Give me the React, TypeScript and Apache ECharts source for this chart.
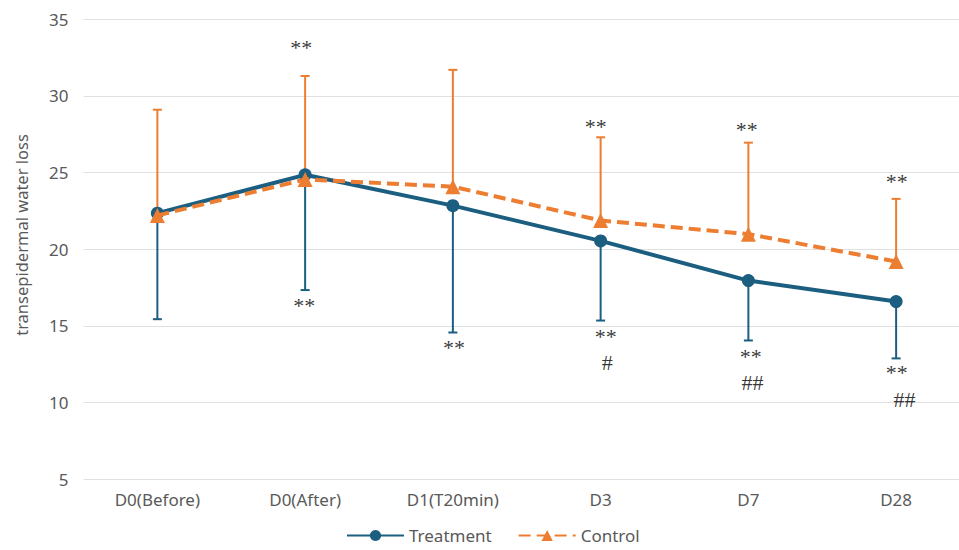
import React, { useEffect, useRef } from "react";
import * as echarts from "echarts";

const categories = ["D0(Before)", "D0(After)", "D1(T20min)", "D3", "D7", "D28"];
const treatmentMean = [22.35, 24.85, 22.84, 20.54, 17.95, 16.58];
const treatmentLower = [15.43, 17.33, 14.56, 15.34, 14.04, 12.87];
const controlMean = [22.2, 24.55, 24.08, 21.87, 20.98, 19.19];
const controlUpper = [29.1, 31.3, 31.7, 27.3, 26.95, 23.28];
const yTicks = { min: 5, max: 35, interval: 5 };

// annotations: category index, value position, text, horizontal pixel nudge
const annotationCats = [1, 1, 2, 3, 3, 3, 4, 4, 4, 5, 5, 5];
const annotationVals = [33.2, 16.4, 13.65, 28.1, 14.35, 12.6, 27.9, 13.05, 11.3, 24.45, 12.0, 10.17];
const annotationTexts = ["**", "**", "**", "**", "**", "#", "**", "**", "##", "**", "**", "##"];
const annotationDx = [-4, -1, 1, -5, 5, 6.6, -1.6, 2.4, 4, 0.7, 0.7, 8.3];

const TREAT = "#1b5e80";
const CTRL = "#ed7d31";
const AXIS_TEXT = "#595959";
const FONT = "Noto Sans";

function errorBarSeries(name: string, mean: number[], bound: number[], color: string) {
  return {
    name,
    type: "custom",
    z: 1,
    silent: true,
    encode: { x: 0, y: [1, 2] },
    data: mean.map((m, i) => [i, m, bound[i]]),
    renderItem: (params: any, api: any) => {
      const x = api.value(0);
      const p0 = api.coord([x, api.value(1)]);
      const p1 = api.coord([x, api.value(2)]);
      const hw = 4.5;
      return {
        type: "group",
        children: [
          { type: "line", shape: { x1: p0[0], y1: p0[1], x2: p1[0], y2: p1[1] }, style: { stroke: color, lineWidth: 2 } },
          { type: "line", shape: { x1: p1[0] - hw, y1: p1[1], x2: p1[0] + hw, y2: p1[1] }, style: { stroke: color, lineWidth: 2 } },
        ],
      };
    },
  };
}

export default function App() {
  const ref = useRef<HTMLDivElement>(null);
  useEffect(() => {
    if (!ref.current) return;
    const chart = echarts.init(ref.current, undefined, { renderer: "svg" });
    chart.setOption({
      animation: false,
      backgroundColor: "#ffffff",
      grid: { left: 83.5, right: 0, top: 19.3, bottom: 71 },
      legend: {
        data: ["Treatment", "Control"],
        bottom: 1,
        left: 341,
        itemWidth: 57,
        itemHeight: 14,
        itemGap: 26,
        textStyle: { color: AXIS_TEXT, fontSize: 17, fontFamily: FONT },
      },
      graphic: [
        {
          type: "text",
          x: 21.5,
          y: 235,
          rotation: Math.PI / 2,
          style: {
            text: "transepidermal water loss",
            fill: AXIS_TEXT,
            font: `16.5px "${FONT}"`,
            align: "center",
            verticalAlign: "middle",
          },
        },
      ],
      xAxis: {
        type: "category",
        data: categories,
        boundaryGap: true,
        axisLine: { show: false },
        axisTick: { show: false },
        axisLabel: { color: AXIS_TEXT, fontSize: 17, fontFamily: FONT, margin: 12 },
      },
      yAxis: {
        type: "value",
        min: yTicks.min,
        max: yTicks.max,
        interval: yTicks.interval,
        axisLine: { show: false },
        axisTick: { show: false },
        axisLabel: { color: AXIS_TEXT, fontSize: 17, fontFamily: FONT, margin: 15 },
        splitLine: { lineStyle: { color: "#e0e0e0", width: 1 } },
      },
      series: [
        errorBarSeries("TreatmentErr", treatmentMean, treatmentLower, TREAT),
        errorBarSeries("ControlErr", controlMean, controlUpper, CTRL),
        {
          name: "Treatment",
          type: "line",
          z: 3,
          data: treatmentMean,
          color: TREAT,
          symbol: "circle",
          symbolSize: 13,
          lineStyle: { color: TREAT, width: 4 },
          itemStyle: { color: TREAT },
        },
        {
          name: "Control",
          type: "line",
          z: 4,
          data: controlMean,
          color: CTRL,
          symbol: "triangle",
          symbolSize: 15,
          lineStyle: { color: CTRL, width: 4, type: [12, 6] },
          itemStyle: { color: CTRL },
        },
        {
          name: "Annotations",
          type: "scatter",
          z: 5,
          silent: true,
          symbolSize: 0,
          data: annotationCats.map((c, i) => ({
            value: [c, annotationVals[i]],
            label: {
              show: true,
              position: "inside",
              offset: [annotationDx[i], annotationTexts[i].startsWith("*") ? 1 : 0],
              formatter: annotationTexts[i],
              color: "#000000",
              fontSize: 22,
              lineHeight: 15,
              fontFamily: "Liberation Serif",
            },
          })),
        },
      ],
    });
    return () => chart.dispose();
  }, []);
  return <div ref={ref} style={{ position: "fixed", left: 0, top: 0, width: 970, height: 550 }} />;
}
